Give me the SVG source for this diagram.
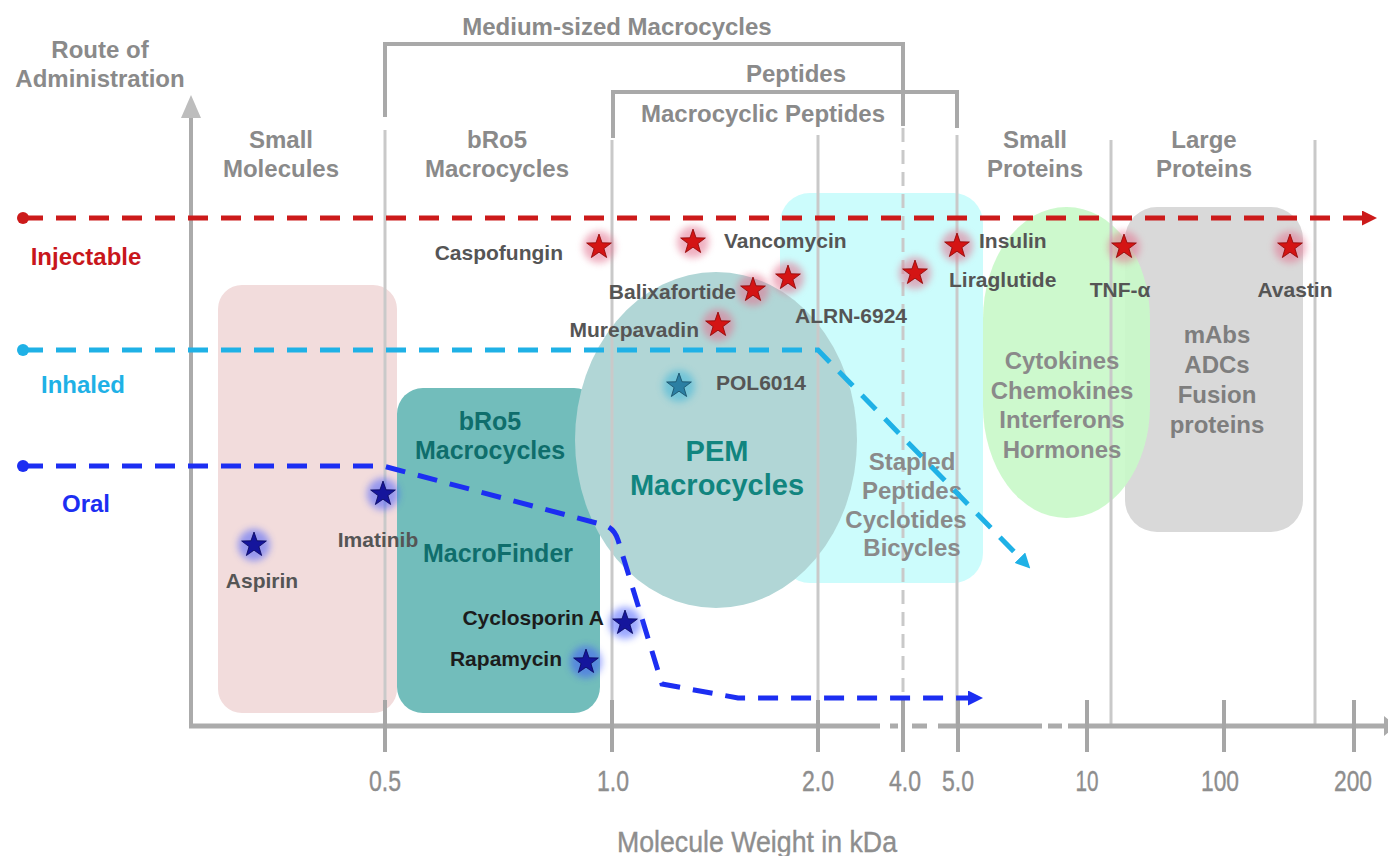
<svg xmlns="http://www.w3.org/2000/svg" xmlns:xlink="http://www.w3.org/1999/xlink" width="1388" height="856" viewBox="0 0 1388 856">
  <style>
    .hdr { font-family: "Liberation Sans", Arial, sans-serif; font-weight: bold; font-size: 24px; fill: #8a8a8a; text-anchor: middle; }
    .lbl { font-family: "Liberation Sans", Arial, sans-serif; font-weight: bold; font-size: 21px; fill: #555555; }
    .dark { fill: #1c1c1c; }
    .teal { font-family: "Liberation Sans", Arial, sans-serif; font-weight: bold; font-size: 25px; fill: #0f6e6c; text-anchor: middle; }
    .pem { font-family: "Liberation Sans", Arial, sans-serif; font-weight: bold; font-size: 29px; fill: #11857f; text-anchor: middle; }
    .route { font-family: "Liberation Sans", Arial, sans-serif; font-weight: bold; font-size: 24px; }
    .tick-lbl { font-family: "Liberation Sans", Arial, sans-serif; font-size: 30px; fill: #8e8e8e; text-anchor: middle; stroke: #8e8e8e; stroke-width: 0.4; }
    .grid { stroke: #c9c9c9; stroke-width: 3; fill: none; }
    .bracket { stroke: #a9a9a9; stroke-width: 4; fill: none; }
    .axis { stroke: #ababab; fill: none; }
    .tick { stroke: #a6a6a6; stroke-width: 4; }
    .route-line { fill: none; stroke-width: 5; stroke-dasharray: 20 13; }
    .glow-red { fill: #e3718f; opacity: 0.55; }
    .glow-blue { fill: #3a52ff; opacity: 0.5; }
    .glow-cyan { fill: #36b3d9; opacity: 0.5; }
    .star-red { fill: #d41414; stroke: #8c0505; stroke-width: 0.8; }
    .star-blue { fill: #15159c; stroke: #08085a; stroke-width: 0.8; }
    .star-cyan { fill: #2b7fa3; stroke: #154b63; stroke-width: 0.8; }
  </style>
  <defs>
    <filter id="soft" x="-1" y="-1" width="3" height="3">
      <feGaussianBlur stdDeviation="3.5"/>
    </filter>
    <path id="star" d="M0,-13 L3.06,-4.21 L12.36,-4.02 L4.95,1.61 L7.64,10.52 L0,5.2 L-7.64,10.52 L-4.95,1.61 L-12.36,-4.02 L-3.06,-4.21 Z"/>
    <circle id="halo" r="16"/>
    <marker id="arrow-red" viewBox="0 0 10 10" refX="4" refY="5" markerWidth="3" markerHeight="3" orient="auto">
      <path d="M0,0 L10,5 L0,10 Z" fill="#cc1a1a"/>
    </marker>
    <marker id="arrow-cyan" viewBox="0 0 10 10" refX="4" refY="5" markerWidth="3" markerHeight="3" orient="auto">
      <path d="M0,0 L10,5 L0,10 Z" fill="#1fb1e6"/>
    </marker>
    <marker id="arrow-blue" viewBox="0 0 10 10" refX="4" refY="5" markerWidth="3" markerHeight="3" orient="auto">
      <path d="M0,0 L10,5 L0,10 Z" fill="#1c2ef2"/>
    </marker>
  </defs>

  <rect width="1388" height="856" fill="#ffffff"/>

  <!-- class regions -->
  <g id="region-small-molecules"><rect x="218" y="285" width="179" height="428" rx="24" fill="#f2dcdc"/></g>
  <g id="region-macrofinder"><rect x="397" y="388" width="203" height="325" rx="26" fill="#72bdbb"/></g>
  <g id="region-stapled"><rect x="780" y="193" width="203" height="390" rx="30" fill="#ccfcfc"/></g>
  <g id="region-pem"><ellipse cx="716" cy="440" rx="141" ry="168" fill="#b1d6d6"/></g>
  <g id="region-large-proteins"><rect x="1125" y="207" width="178" height="325" rx="32" fill="#d9d9d9"/></g>
  <g id="region-small-proteins"><rect x="983" y="207" width="167" height="311" rx="83" ry="112" fill="#c9f9c9" opacity="0.92"/></g>

  <!-- weight boundaries -->
  <g id="gridlines">
    <line class="grid" x1="385" y1="130" x2="385" y2="725"/>
    <line class="grid" x1="612" y1="140" x2="612" y2="725"/>
    <line class="grid" x1="818" y1="135" x2="818" y2="725"/>
    <line class="grid" x1="903" y1="128" x2="903" y2="725" stroke-dasharray="14 8"/>
    <line class="grid" x1="957" y1="135" x2="957" y2="725"/>
    <line class="grid" x1="1111" y1="140" x2="1111" y2="725"/>
    <line class="grid" x1="1315" y1="140" x2="1315" y2="725"/>
  </g>

  <!-- category brackets -->
  <g id="bracket-medium">
    <path class="bracket" d="M385,117 V44 H903 V126"/>
    <text class="hdr" x="617" y="35">Medium-sized Macrocycles</text>
  </g>
  <g id="bracket-peptides">
    <path class="bracket" d="M613,138 V92 H957 V128"/>
    <text class="hdr" x="796" y="82">Peptides</text>
    <text class="hdr" x="763" y="122">Macrocyclic Peptides</text>
  </g>

  <!-- axes -->
  <g id="axes">
    <line class="axis" stroke-width="4" x1="191" y1="727" x2="191" y2="116"/>
    <polygon points="181,118 201,118 191,95" fill="#bdbdbd"/>
    <g stroke="#ababab" stroke-width="5">
      <line x1="189" y1="726" x2="880" y2="726"/>
      <line x1="890" y1="726" x2="898" y2="726"/>
      <line x1="912" y1="726" x2="927" y2="726"/>
      <line x1="938" y1="726" x2="1042" y2="726"/>
      <line x1="1048" y1="726" x2="1062" y2="726"/>
      <line x1="1068" y1="726" x2="1388" y2="726"/>
    </g>
    <polygon points="1384,716 1396,726 1384,736" fill="#ababab"/>
    <g class="tick">
      <line x1="385" y1="700" x2="385" y2="752"/>
      <line x1="612" y1="700" x2="612" y2="752"/>
      <line x1="818" y1="700" x2="818" y2="752"/>
      <line x1="903" y1="700" x2="903" y2="752"/>
      <line x1="958" y1="700" x2="958" y2="752"/>
      <line x1="1087" y1="700" x2="1087" y2="752"/>
      <line x1="1224" y1="700" x2="1224" y2="752"/>
      <line x1="1354" y1="700" x2="1354" y2="752"/>
    </g>
    <text class="tick-lbl" x="385" y="791" textLength="32" lengthAdjust="spacingAndGlyphs">0.5</text>
    <text class="tick-lbl" x="613" y="791" textLength="32" lengthAdjust="spacingAndGlyphs">1.0</text>
    <text class="tick-lbl" x="818" y="791" textLength="32" lengthAdjust="spacingAndGlyphs">2.0</text>
    <text class="tick-lbl" x="905" y="791" textLength="32" lengthAdjust="spacingAndGlyphs">4.0</text>
    <text class="tick-lbl" x="958" y="791" textLength="32" lengthAdjust="spacingAndGlyphs">5.0</text>
    <text class="tick-lbl" x="1087" y="791" textLength="23" lengthAdjust="spacingAndGlyphs">10</text>
    <text class="tick-lbl" x="1220" y="791" textLength="38" lengthAdjust="spacingAndGlyphs">100</text>
    <text class="tick-lbl" x="1353" y="791" textLength="38" lengthAdjust="spacingAndGlyphs">200</text>
    <text class="tick-lbl" x="757" y="852" font-size="28" textLength="280" lengthAdjust="spacingAndGlyphs">Molecule Weight in kDa</text>
    <text class="hdr" x="100" y="58">Route of</text>
    <text class="hdr" x="100" y="87">Administration</text>
  </g>

  <!-- column headings -->
  <g id="heading-small-molecules">
    <text class="hdr" x="281" y="148">Small</text>
    <text class="hdr" x="281" y="177">Molecules</text>
  </g>
  <g id="heading-bro5">
    <text class="hdr" x="497" y="148">bRo5</text>
    <text class="hdr" x="497" y="177">Macrocycles</text>
  </g>
  <g id="heading-small-proteins">
    <text class="hdr" x="1035" y="148">Small</text>
    <text class="hdr" x="1035" y="177">Proteins</text>
  </g>
  <g id="heading-large-proteins">
    <text class="hdr" x="1204" y="148">Large</text>
    <text class="hdr" x="1204" y="177">Proteins</text>
  </g>

  <!-- region labels -->
  <g id="label-macrofinder">
    <text class="teal" x="490" y="430">bRo5</text>
    <text class="teal" x="490" y="459">Macrocycles</text>
    <text class="teal" x="498" y="562">MacroFinder</text>
  </g>
  <g id="label-pem">
    <text class="pem" x="717" y="461">PEM</text>
    <text class="pem" x="717" y="495">Macrocycles</text>
  </g>
  <g id="label-stapled" class="hdr">
    <text x="912" y="470">Stapled</text>
    <text x="912" y="499">Peptides</text>
    <text x="906" y="528">Cyclotides</text>
    <text x="912" y="556">Bicycles</text>
  </g>
  <g id="label-cytokines" class="hdr">
    <text x="1062" y="369">Cytokines</text>
    <text x="1062" y="399">Chemokines</text>
    <text x="1062" y="428">Interferons</text>
    <text x="1062" y="458">Hormones</text>
  </g>
  <g id="label-antibodies" class="hdr" style="fill:#7e7e7e">
    <text x="1217" y="343">mAbs</text>
    <text x="1217" y="373">ADCs</text>
    <text x="1217" y="403">Fusion</text>
    <text x="1217" y="433">proteins</text>
  </g>

  <!-- administration routes -->
  <g id="connectors">
    <g id="route-injectable">
      <circle cx="23" cy="218" r="6" fill="#cc1a1a"/>
      <path class="route-line" stroke="#cc1a1a" d="M23,218 H1368" marker-end="url(#arrow-red)"/>
      <text class="route" x="86" y="265" text-anchor="middle" fill="#c8161b">Injectable</text>
    </g>
    <g id="route-inhaled">
      <circle cx="23" cy="350" r="6" fill="#1fb1e6"/>
      <path class="route-line" stroke="#1fb1e6" d="M23,350 H818 L1024,562" marker-end="url(#arrow-cyan)"/>
      <text class="route" x="83" y="393" text-anchor="middle" fill="#1fb1e6">Inhaled</text>
    </g>
    <g id="route-oral">
      <circle cx="23" cy="466" r="6" fill="#1c2ef2"/>
      <path class="route-line" stroke="#1c2ef2" d="M23,466 H383 L604,525 Q614,528 618,540 L662,684 L738,698 H974" marker-end="url(#arrow-blue)"/>
      <text class="route" x="86" y="512" text-anchor="middle" fill="#1c2ef2">Oral</text>
    </g>
  </g>

  <!-- compounds -->
  <g id="cmp-caspofungin" transform="translate(599,247)">
    <use href="#halo" class="glow-red" filter="url(#soft)"/><use href="#star" class="star-red"/>
    <text class="lbl" x="-36" y="13" text-anchor="end">Caspofungin</text>
  </g>
  <g id="cmp-vancomycin" transform="translate(693,242)">
    <use href="#halo" class="glow-red" filter="url(#soft)"/><use href="#star" class="star-red"/>
    <text class="lbl" x="31" y="6">Vancomycin</text>
  </g>
  <g id="cmp-alrn6924" transform="translate(788,278)">
    <use href="#halo" class="glow-red" filter="url(#soft)"/><use href="#star" class="star-red"/>
    <text class="lbl" x="7" y="45">ALRN-6924</text>
  </g>
  <g id="cmp-balixafortide" transform="translate(753,290)">
    <use href="#halo" class="glow-red" filter="url(#soft)"/><use href="#star" class="star-red"/>
    <text class="lbl" x="-17" y="9" text-anchor="end">Balixafortide</text>
  </g>
  <g id="cmp-murepavadin" transform="translate(718,325)">
    <use href="#halo" class="glow-red" filter="url(#soft)"/><use href="#star" class="star-red"/>
    <text class="lbl" x="-19" y="12" text-anchor="end">Murepavadin</text>
  </g>
  <g id="cmp-liraglutide" transform="translate(915,273)">
    <use href="#halo" class="glow-red" filter="url(#soft)"/><use href="#star" class="star-red"/>
    <text class="lbl" x="34" y="14">Liraglutide</text>
  </g>
  <g id="cmp-insulin" transform="translate(957,246)">
    <use href="#halo" class="glow-red" filter="url(#soft)"/><use href="#star" class="star-red"/>
    <text class="lbl" x="22" y="2">Insulin</text>
  </g>
  <g id="cmp-tnf" transform="translate(1124,247)">
    <use href="#halo" class="glow-red" filter="url(#soft)"/><use href="#star" class="star-red"/>
    <text class="lbl" x="-4" y="50" text-anchor="middle">TNF-α</text>
  </g>
  <g id="cmp-avastin" transform="translate(1290,247)">
    <use href="#halo" class="glow-red" filter="url(#soft)"/><use href="#star" class="star-red"/>
    <text class="lbl" x="5" y="50" text-anchor="middle">Avastin</text>
  </g>
  <g id="cmp-pol6014" transform="translate(679,386)">
    <use href="#halo" class="glow-cyan" filter="url(#soft)"/><use href="#star" class="star-cyan"/>
    <text class="lbl" x="37" y="4">POL6014</text>
  </g>
  <g id="cmp-aspirin" transform="translate(254,545)">
    <use href="#halo" class="glow-blue" filter="url(#soft)"/><use href="#star" class="star-blue"/>
    <text class="lbl" x="8" y="43" text-anchor="middle">Aspirin</text>
  </g>
  <g id="cmp-imatinib" transform="translate(383,494)">
    <use href="#halo" class="glow-blue" filter="url(#soft)"/><use href="#star" class="star-blue"/>
    <text class="lbl" x="-5" y="53" text-anchor="middle">Imatinib</text>
  </g>
  <g id="cmp-cyclosporin" transform="translate(625,623)">
    <use href="#halo" class="glow-blue" filter="url(#soft)"/><use href="#star" class="star-blue"/>
    <text class="lbl dark" x="-21" y="2" text-anchor="end">Cyclosporin A</text>
  </g>
  <g id="cmp-rapamycin" transform="translate(586,662)">
    <use href="#halo" class="glow-blue" filter="url(#soft)"/><use href="#star" class="star-blue"/>
    <text class="lbl dark" x="-24" y="4" text-anchor="end">Rapamycin</text>
  </g>
</svg>
